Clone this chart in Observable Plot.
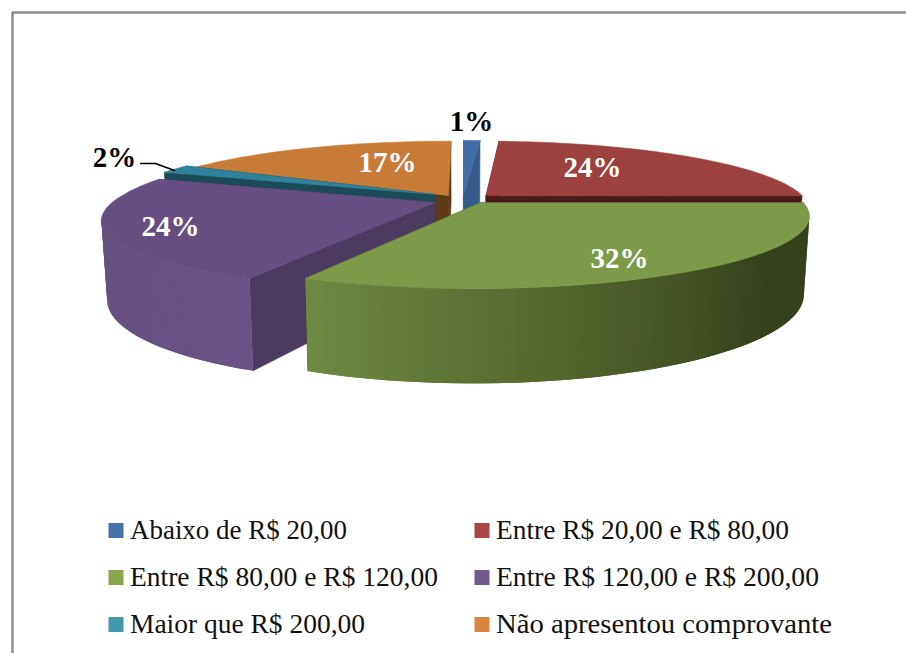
<!DOCTYPE html>
<html lang="pt">
<head>
<meta charset="utf-8">
<script src="https://cdn.jsdelivr.net/npm/d3@7"></script>
<script src="https://cdn.jsdelivr.net/npm/@observablehq/plot@0.6"></script>
<style>html,body{margin:0;padding:0;background:#fff}svg{display:block}</style>
</head>
<body>
<div id="chart"></div>
<script>
// --- data ---
const categories = ["Abaixo de R$ 20,00","Entre R$ 20,00 e R$ 80,00","Entre R$ 80,00 e R$ 120,00","Entre R$ 120,00 e R$ 200,00","Maior que R$ 200,00","Não apresentou comprovante"];
const percents = [1, 24, 32, 24, 2, 17];
const percentLabels = ["1%","24%","32%","24%","2%","17%"];
// --- styles ---
const legendColors = ["#4573a7","#aa4643","#89a54e","#71588f","#4198af","#db843d"];
const topColors    = ["#3f6fa6","#9d4140","#7d9a48","#664f80","#2f8299","#c87a37"];
const cutColors    = ["#345c8a","#4d1a1b","#35401c","#4c3a5f","#1c4a57","#5e3a17"];
const wallStops = [
  ["#345c8a","#345c8a"],["#4d1a1b","#4d1a1b"],
  ["#35401c","#35401c","#53642d","#6f8a41"],
  ["#6a5285","#665080","#5f4a77"],
  ["#1c4a57","#1c4a57"],["#5e3a17","#5e3a17"]
];
const labelColors = ["#000","#fff","#fff","#fff","#000","#fff"];
const legendWidths = [217, 293, 308, 323, 235, 336];

// --- layout (pixels of the frame) ---
const W = 906, H = 653, AX = 463, CY = 194, R = 315, RY = 64.8;
const P = 0.2, DEPTH = 73.5 / RY, TAPER = 0.016, FRONT_SKEW = 0.14;
const explode = [[0,0],[0.072,-0.015],[0.056,-0.125],[-0.085,-0.123],[-0.09,0],[-0.048,-0.015]];
const labelAt = [[471,121],[592,167],[619,258],[170,226],[114,157],[387,162]];
const dx = px => (px - AX) / R, dy = py => (CY - py) / RY;

function project(wx, wy, drop = 0) {
  const s = 1 / (1 + P * wy);
  const skew = wy < 0 ? FRONT_SKEW * (s - 1) : 0;
  return {x: (wx * s - skew) * (1 - TAPER * drop), y: wy * s - DEPTH * s * drop};
}

// --- build the faces from the percentages ---
const rows = [];
let id = 0;
function face(points, fill, edge = fill) {
  id++;
  for (const p of points) rows.push({id, x: p.x, y: p.y, fill, edge});
}
const total = d3.sum(percents);
const cum = d3.cumsum(percents);
const slices = percents.map((v, i) => ({
  i, a0: ((cum[i] - v) / total) * 2 * Math.PI, a1: (cum[i] / total) * 2 * Math.PI
}));
const order = [0, 5, 1, 4, 3, 2];
for (const i of order) {
  const {a0, a1} = slices[i], [ox, oy] = explode[i];
  const pt = (a, drop) => project(ox + Math.sin(a), oy + Math.cos(a), drop);
  const apex = drop => project(ox, oy, drop);
  // cut walls
  for (const a of [a0, a1]) face([apex(0), pt(a, 0), pt(a, 1), apex(1)], cutColors[i]);
  // outer wall, as thin overlapping shaded strips facing the viewer
  const n = Math.max(2, Math.ceil((a1 - a0) / (Math.PI / 120)));
  const stops = wallStops[i];
  const shade = d3.scaleLinear().domain(stops.map((_, k) => k / (stops.length - 1))).range(stops);
  for (let k = 0; k < n; k++) {
    const b0 = a0 + (a1 - a0) * k / n, b1 = a0 + (a1 - a0) * Math.min(n, k + 2) / n;
    const m = a0 + (a1 - a0) * (k + .5) / n;
    const wx = ox + Math.sin(m), wy = oy + Math.cos(m);
    const facing = (-1 / P - wy) * Math.cos(m) + (-wx) * Math.sin(m);
    if (facing > 0) face([pt(b0, 0), pt(b1, 0), pt(b1, 1), pt(b0, 1)], shade((k + .5) / n), "none");
  }
  // top
  const arc = d3.range(n + 1).map(k => pt(a0 + (a1 - a0) * k / n, 0));
  face([apex(0), ...arc], topColors[i]);
}

// --- legend ---
const legendRows = categories.map((name, i) => ({
  name, color: legendColors[i],
  sx: dx(i % 2 ? 481.5 : 115.5), tx: dx(i % 2 ? 495.5 : 129.5),
  y: dy(530 + 47 * Math.floor(i / 2))
}));
const labels = percentLabels.map((t, i) => ({t, x: dx(labelAt[i][0]), y: dy(labelAt[i][1]), c: labelColors[i]}));
const leader = [[140,163],[155,163],[174,170]].map(([x, y]) => ({x: dx(x), y: dy(y)}));
const FONT = "'Liberation Serif', serif";

const chart = Plot.plot({
  width: W, height: H, margin: 0,
  x: {domain: [-1, 1], range: [AX - R, AX + R], axis: null},
  y: {domain: [-1, 1], range: [CY + RY, CY - RY], axis: null},
  color: {type: "identity"},
  style: {background: "#fff"},
  marks: [
    Plot.ruleX([dx(12)], {y1: dy(12), y2: dy(H), stroke: "#8c8c8c", strokeWidth: 2.4}),
    Plot.ruleY([dy(12)], {x1: dx(12), x2: dx(W), stroke: "#8c8c8c", strokeWidth: 2.4}),
    Plot.line(rows, {x: "x", y: "y", z: "id", fill: "fill", stroke: "edge", strokeWidth: 0.6, curve: "linear-closed"}),
    Plot.line(leader, {x: "x", y: "y", stroke: "#000", strokeWidth: 1.6, curve: "linear"}),
    Plot.text(labels, {x: "x", y: "y", text: "t", fill: "c", fontFamily: FONT, fontWeight: "bold", fontSize: 29}),
    Plot.dot(legendRows, {x: "sx", y: "y", symbol: "square", r: 8.46, fill: "color"}),
    Plot.text(legendRows, {x: "tx", y: "y", text: "name", textAnchor: "start", fill: "#111", fontFamily: FONT, fontSize: 28, className: "legend-label"})
  ]
});
d3.select(chart).selectAll(".legend-label text")
  .attr("textLength", (_, i) => legendWidths[i])
  .attr("lengthAdjust", "spacingAndGlyphs");
document.getElementById("chart").append(chart);
</script>
</body>
</html>
